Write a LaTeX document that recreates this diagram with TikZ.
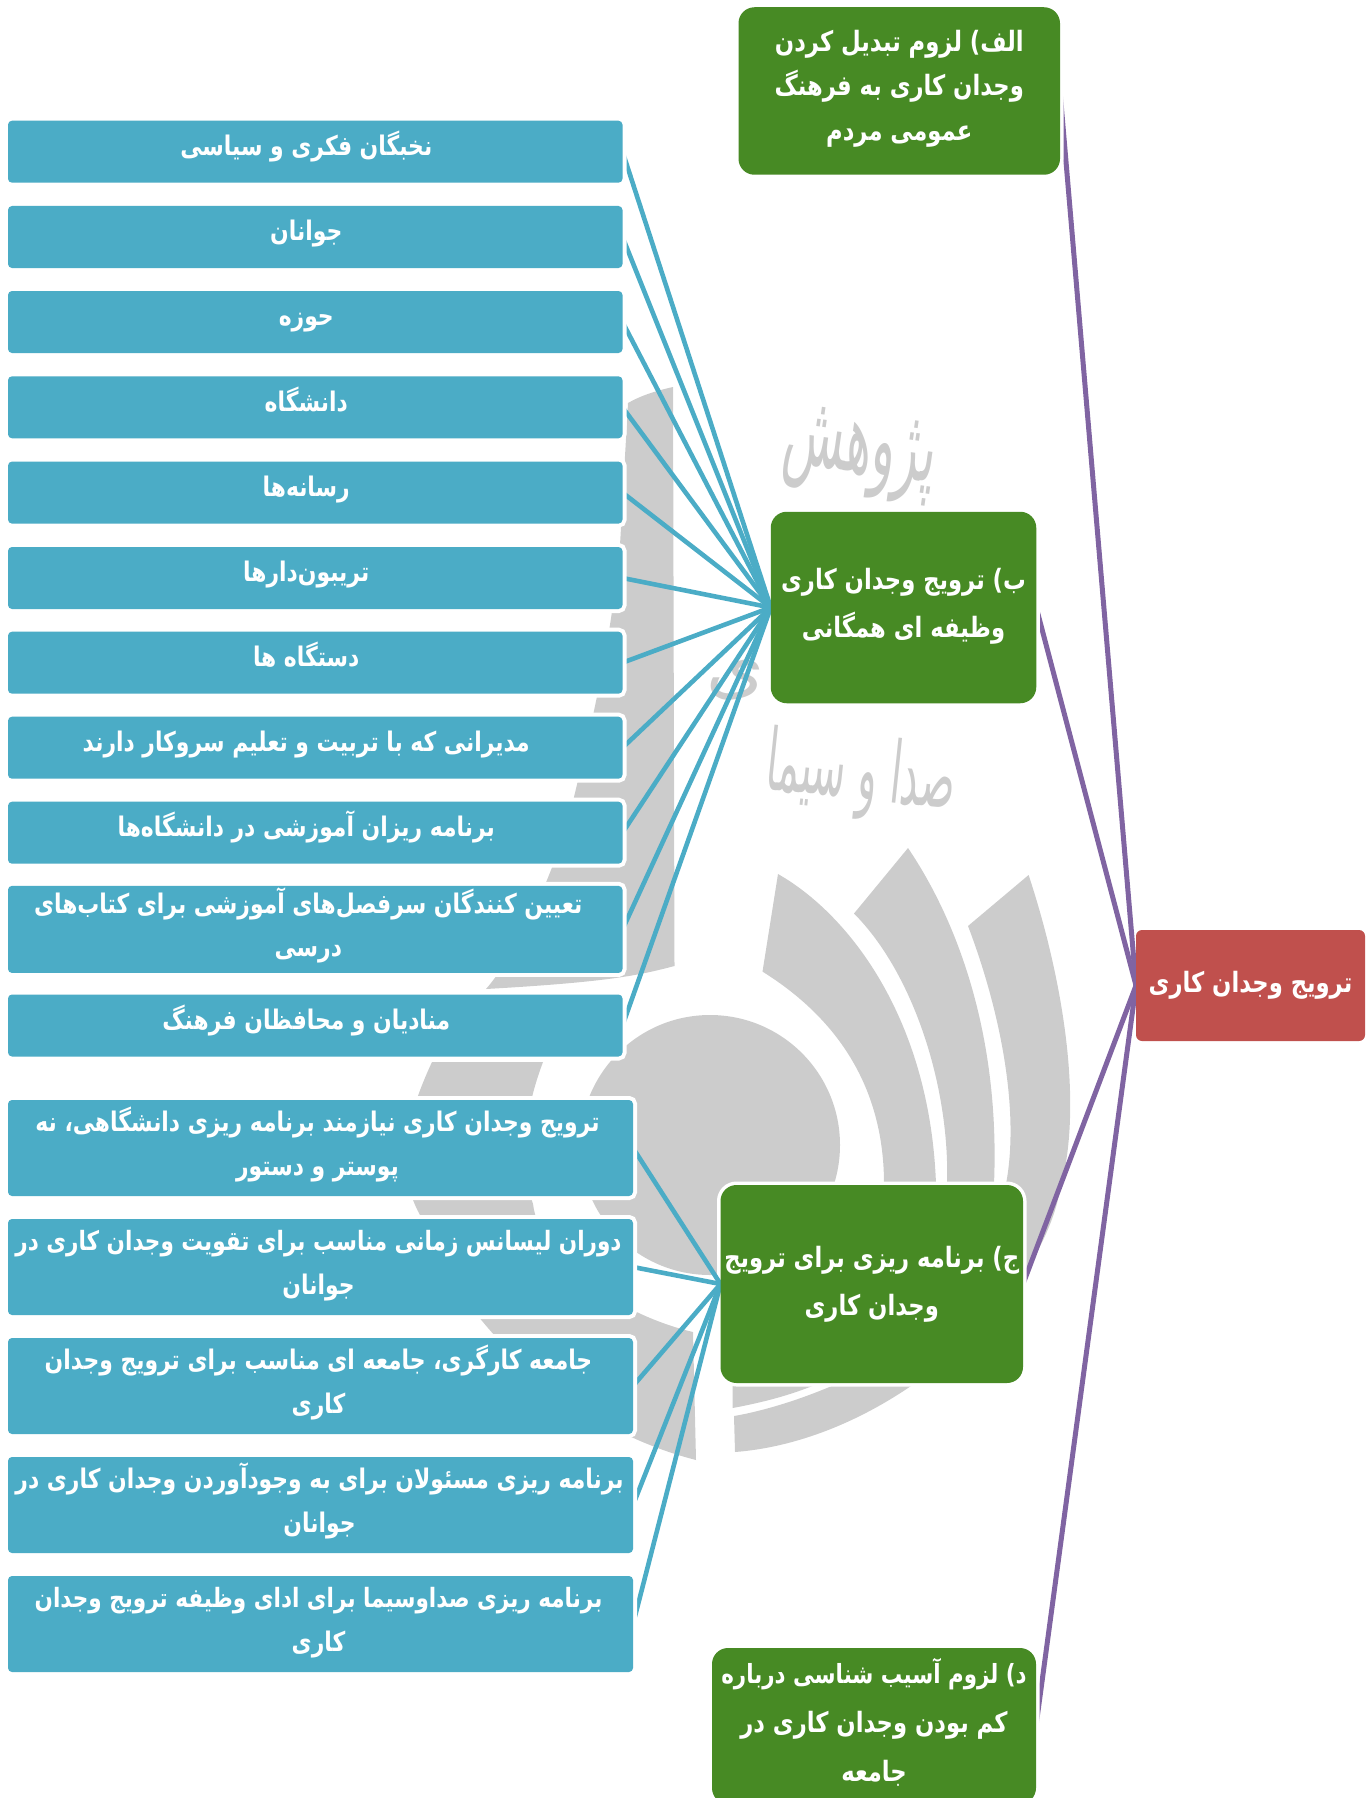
\documentclass[tikz,border=0pt]{standalone}
\usepackage{fontspec}
\TeXXeTstate=1
\newfontfamily\fa[Script=Arabic,FakeStretch=0.81]{DejaVu Sans}
\newfontfamily\fawm[Script=Arabic]{DejaVu Sans}
\definecolor{cblue}{HTML}{4BACC6}
\definecolor{cgreen}{HTML}{478A24}
\definecolor{cred}{HTML}{C0504D}
\definecolor{cpurple}{HTML}{8064A2}
\definecolor{cwm}{HTML}{CCCCCC}
\newcommand\rr[1]{\beginR #1\endR}
\newcommand\lbl[4]{\raisebox{#1pt}[\height][\depth]{\hspace*{#2pt}\def\arraystretch{#3}\begin{tabular}{@{}c@{}}#4\end{tabular}}}
\pgfdeclarelayer{wm}
\pgfdeclarelayer{purple}
\pgfdeclarelayer{halo}
\pgfdeclarelayer{blue}
\pgfsetlayers{wm,purple,halo,blue,main}
\tikzset{
  anybox/.style={rectangle,inner sep=0pt,outer sep=0pt,text=white,font=\fa\bfseries\fontsize{27}{44}\selectfont},
  bluebox/.style={anybox,fill=cblue,rounded corners=4pt,preaction={draw=white,line width=8pt},minimum width=#1},
  bluebox/.default=614.5pt,
  greenbox/.style={anybox,fill=cgreen,rounded corners=16pt,font=\fa\bfseries\fontsize{28}{44}\selectfont},
  redbox/.style={anybox,fill=cred,rounded corners=6pt,font=\fa\bfseries\fontsize{28}{44}\selectfont},
  halo/.style={draw=white,line width=7pt,rounded corners=16pt},
  bluelink/.style={cblue,line width=4.6pt},
  purplelink/.style={cpurple,line width=5pt},
  wmtext/.style={text=cwm,font=\fawm\fontsize{#1}{#1}\selectfont,inner sep=0pt},
}
\begin{document}
\begin{tikzpicture}[x=1pt,y=-1pt]
\useasboundingbox (0,0) rectangle (1370,1798);

% --- nodes ---
\node[bluebox,minimum height=62pt] (a1) at (315.25,151.7) {\lbl{5}{-18}{1}{\rr{نخبگان فکری و سیاسی}}};
\node[bluebox,minimum height=62pt] (a2) at (315.25,237) {\lbl{5}{-18}{1}{\rr{جوانان}}};
\node[bluebox,minimum height=62pt] (a3) at (315.25,322) {\lbl{5}{-18}{1}{\rr{حوزه}}};
\node[bluebox,minimum height=62pt] (a4) at (315.25,407.3) {\lbl{5}{-18}{1}{\rr{دانشگاه}}};
\node[bluebox,minimum height=62pt] (a5) at (315.25,492.6) {\lbl{5}{-18}{1}{\rr{رسانه‌ها}}};
\node[bluebox,minimum height=62pt] (a6) at (315.25,578) {\lbl{5}{-18}{1}{\rr{تریبون‌دارها}}};
\node[bluebox,minimum height=62pt] (a7) at (315.25,662.7) {\lbl{5}{-18}{1}{\rr{دستگاه ها}}};
\node[bluebox,minimum height=62pt] (a8) at (315.25,747.7) {\lbl{5}{-18}{1}{\rr{مدیرانی که با تربیت و تعلیم سروکار دارند}}};
\node[bluebox,minimum height=62pt] (a9) at (315.25,832.7) {\lbl{5}{-18}{1}{\rr{برنامه ریزان آموزشی در دانشگاه‌ها}}};
\node[bluebox,minimum height=85pt] (a10) at (315.25,929.4) {\lbl{3}{-14}{0.99}{\rr{تعیین کنندگان سرفصل‌های آموزشی برای کتاب‌های}\\\rr{درسی}}};
\node[bluebox,minimum height=62pt] (a11) at (315.25,1025.5) {\lbl{5}{-18}{1}{\rr{منادیان و محافظان فرهنگ}}};

\node[bluebox=625pt,minimum height=96pt] (b1) at (320.5,1148) {\lbl{3}{-6}{1}{\rr{ترویج وجدان کاری نیازمند برنامه ریزی دانشگاهی، نه}\\\rr{پوستر و دستور}}};
\node[bluebox=625pt,minimum height=96pt] (b2) at (320.5,1267) {\lbl{3}{-4}{1}{{\fontsize{26.6}{44}\selectfont\rr{دوران لیسانس زمانی مناسب برای تقویت وجدان کاری در}}\\\rr{جوانان}}};
\node[bluebox=625pt,minimum height=96pt] (b3) at (320.5,1386) {\lbl{3}{-4}{1}{\rr{جامعه کارگری، جامعه ای مناسب برای ترویج وجدان}\\\rr{کاری}}};
\node[bluebox=625pt,minimum height=96pt] (b4) at (320.5,1505) {\lbl{3}{-2}{1}{\rr{برنامه ریزی مسئولان برای به وجودآوردن وجدان کاری در}\\\rr{جوانان}}};
\node[bluebox=625pt,minimum height=96pt] (b5) at (320.5,1624) {\lbl{3}{-4}{1}{{\fontsize{26.6}{44}\selectfont\rr{برنامه ریزی صداوسیما برای ادای وظیفه ترویج وجدان}}\\\rr{کاری}}};

\node[greenbox,minimum width=321.5pt,minimum height=167.5pt] (alef) at (899.25,91) {\lbl{4}{0}{1.02}{\rr{الف) لزوم تبدیل کردن}\\\rr{وجدان کاری به فرهنگ}\\\rr{عمومی مردم}}};
\node[greenbox,minimum width=265.5pt,minimum height=191.5pt] (be) at (903.5,607.5) {\lbl{3.5}{0}{1.09}{\rr{ب) ترویج وجدان کاری}\\\rr{وظیفه ای همگانی}}};
\node[greenbox,minimum width=302.5pt,minimum height=198pt] (jim) at (871.75,1284) {\lbl{2}{0}{1.09}{\rr{ج) برنامه ریزی برای ترویج}\\\rr{وجدان کاری}}};
\node[greenbox,minimum width=324pt,minimum height=156pt] (dal) at (874,1726) {\lbl{3}{0}{1.11}{{\fontsize{26.4}{44}\selectfont\rr{د) لزوم آسیب شناسی درباره}}\\\rr{کم بودن وجدان کاری در}\\\rr{جامعه}}};
\node[redbox,minimum width=229pt,minimum height=111pt] (root) at (1250.5,985.5) {\lbl{2}{0}{1}{\rr{ترویج وجدان کاری}}};

% --- watermark ---
\begin{pgfonlayer}{wm}
  \fill[cwm] (710,1145) circle[radius=130];
  % bar at the left
  \fill[cwm] (628,403) .. controls (640,396) and (655,391) .. (673,387)
     -- (674.5,966) .. controls (640,975) and (610,982) .. (486,989)
     .. controls (520,950) and (560,860) .. (574,797)
     .. controls (590,730) and (610,650) .. (620,545) -- cycle;
  % lower left petal
  \fill[cwm] (432,1062) .. controls (405,1120) and (395,1170) .. (420,1215)
     .. controls (445,1290) and (540,1420) .. (696,1460)
     -- (693,1332) .. controls (620,1315) and (540,1260) .. (533,1204)
     .. controls (518,1160) and (525,1110) .. (543,1062) -- cycle;
  % right petals
  \fill[cwm] (778,874) .. controls (850,915) and (930,1020) .. (936,1184)
     -- (884,1184) .. controls (884,1090) and (840,1020) .. (762.5,971.6) -- cycle;
  \fill[cwm] (908,848) .. controls (960,925) and (1000,1040) .. (994,1184)
     -- (947,1184) .. controls (950,1090) and (915,975) .. (854,913.5) -- cycle;
  \fill[cwm] (1028.6,875) .. controls (1060,970) and (1085,1100) .. (1060,1190)
     .. controls (1040,1300) and (890,1440) .. (735,1452)
     -- (734,1416) .. controls (800,1405) and (1000,1340) .. (1006,1184)
     .. controls (1020,1110) and (1000,1010) .. (968,926) -- cycle;
  \fill[cwm] (732.6,1385) -- (732.6,1408) .. controls (765,1402) and (790,1395) .. (815,1385) -- cycle;
  % calligraphy
  \node[wmtext=78,rotate=-8,xscale=0.63,yscale=1.3,transform shape] (w1) at (860,455) {\rr{پژوهش}};
  \node[wmtext=74] (w2) at (735,680) {\rr{ی}};
  \node[wmtext=66,rotate=-6,xscale=0.6,yscale=1.3,transform shape] (w3) at (861,777) {\rr{صدا و سیما}};
\end{pgfonlayer}

% --- connectors: purple under the green boxes' halo ---
\begin{pgfonlayer}{purple}
  \foreach \s in {alef,be,jim,dal} \draw[purplelink] (\s.east) -- (root.west);
\end{pgfonlayer}
\begin{pgfonlayer}{halo}
  \draw[halo] (jim.south west) rectangle (jim.north east);
  \draw[halo] (be.south west) rectangle (be.north east);
  \draw[halo] (alef.south west) rectangle (alef.north east);
  \draw[halo] (dal.south west) rectangle (dal.north east);
\end{pgfonlayer}
\begin{pgfonlayer}{blue}
  \foreach \s in {a1,a2,a3,a4,a5,a6,a7,a8,a9,a10,a11} \draw[bluelink] (\s.east) -- (be.west);
  \foreach \s in {b1,b2,b3,b4,b5} \draw[bluelink] (\s.east) -- (jim.west);
\end{pgfonlayer}
\end{tikzpicture}
\end{document}
